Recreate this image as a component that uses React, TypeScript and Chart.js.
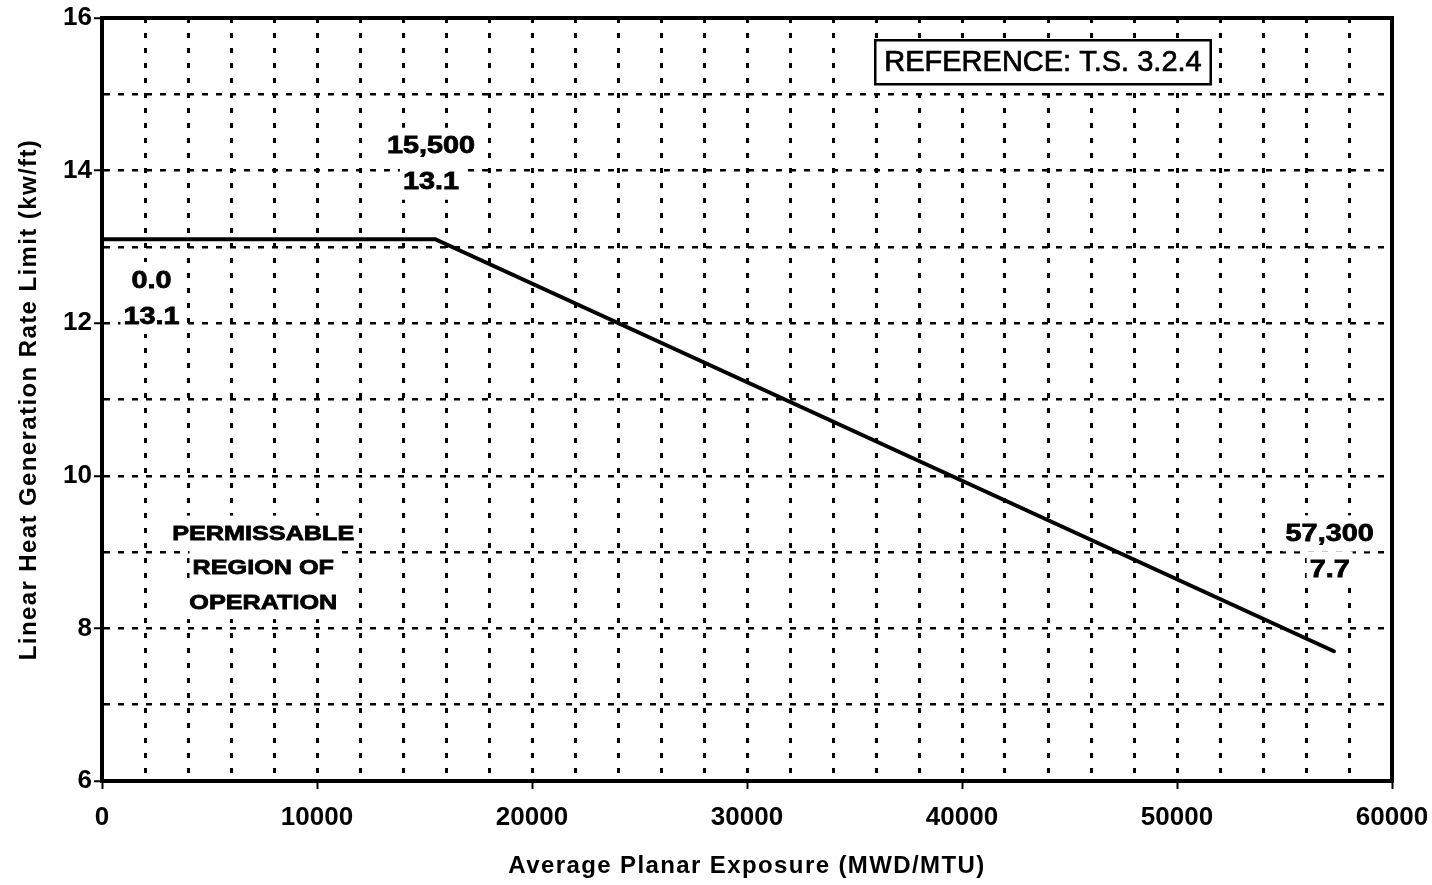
import React, { useEffect, useRef } from 'react';
import { Chart, registerables } from 'chart.js';

Chart.register(...registerables);

// ---- data ----
const exposure = [0, 15500, 57300];
const lhgrLimit = [13.1, 13.1, 7.7];
const xTickLabels = [0, 10000, 20000, 30000, 40000, 50000, 60000];
const yTickLabels = [6, 8, 10, 12, 14, 16];
const pointLabelLines = [
  ['0.0', '13.1'],
  ['15,500', '13.1'],
  ['57,300', '7.7'],
];
const pointLabelX = [2300, 15300, 57100];
const pointLabelY = [12.33, 14.09, 9.01];
const regionLines = ['PERMISSABLE', 'REGION OF', 'OPERATION'];
const regionAt = [7500, 8.8];
const referenceText = 'REFERENCE: T.S. 3.2.4';
const referenceAt = [43767, 15.42];

const FONT = '"Liberation Sans", Arial, Helvetica, sans-serif';

const spacingPlugin = {
  id: 'titleSpacing',
  beforeDraw(chart: any) {
    chart.ctx.letterSpacing = '1.4px';
  },
  beforeDatasetsDraw(chart: any) {
    chart.ctx.letterSpacing = '0px';
    const { ctx, chartArea: a } = chart;
    ctx.save();
    ctx.strokeStyle = '#000';
    ctx.lineWidth = 4;
    ctx.strokeRect(a.left, a.top, a.right - a.left, a.bottom - a.top);
    ctx.restore();
  },
};

const annotationPlugin = {
  id: 'annotations',
  afterDraw(chart: any) {
    const { ctx } = chart;
    const xs = chart.scales.x;
    const ys = chart.scales.y;
    ctx.save();
    ctx.textAlign = 'center';
    ctx.textBaseline = 'middle';
    ctx.letterSpacing = '0px';

    const stretch = 1.2;
    const block = (lines: string[], xv: number, yv: number, size: number, lh: number) => {
      ctx.font = `bold ${size}px ${FONT}`;
      const cx = xs.getPixelForValue(xv);
      const cy = ys.getPixelForValue(yv);
      const n = lines.length;
      lines.forEach((t, i) => {
        const ty = cy + (i - (n - 1) / 2) * lh;
        const w = ctx.measureText(t).width * stretch;
        ctx.fillStyle = '#fff';
        ctx.fillRect(cx - w / 2 - 3, ty - lh / 2, w + 6, lh);
      });
      lines.forEach((t, i) => {
        const ty = cy + (i - (n - 1) / 2) * lh;
        ctx.save();
        ctx.translate(cx, ty);
        ctx.scale(stretch, 1);
        ctx.fillStyle = '#000';
        ctx.strokeStyle = '#000';
        ctx.lineWidth = 0.8;
        ctx.fillText(t, 0, 1);
        ctx.strokeText(t, 0, 1);
        ctx.restore();
      });
    };

    pointLabelLines.forEach((lines, i) => block(lines, pointLabelX[i], pointLabelY[i], 24, 36));
    block(regionLines, regionAt[0], regionAt[1], 21, 34.5);

    // reference box
    ctx.font = `${29}px ${FONT}`;
    const rx = xs.getPixelForValue(referenceAt[0]);
    const ry = ys.getPixelForValue(referenceAt[1]);
    const tw = ctx.measureText(referenceText).width;
    const bw = tw + 18;
    const bh = 44;
    ctx.fillStyle = '#fff';
    ctx.fillRect(rx - bw / 2, ry - bh / 2, bw, bh);
    ctx.strokeStyle = '#000';
    ctx.lineWidth = 2.5;
    ctx.strokeRect(rx - bw / 2, ry - bh / 2, bw, bh);
    ctx.fillStyle = '#000';
    ctx.lineWidth = 0.7;
    ctx.fillText(referenceText, rx, ry + 1);
    ctx.strokeText(referenceText, rx, ry + 1);
    ctx.restore();
  },
};

export default function App() {
  const ref = useRef<HTMLCanvasElement | null>(null);

  useEffect(() => {
    if (!ref.current) return;
    const tickColorFor = (labels: number[]) => (c: any) =>
      c.tick && labels.includes(c.tick.value) ? '#000' : 'rgba(0,0,0,0)';

    const chart = new Chart(ref.current, {
      type: 'line',
      data: {
        datasets: [
          {
            data: exposure.map((x, i) => ({ x, y: lhgrLimit[i] })),
            borderColor: '#000',
            backgroundColor: '#000',
            borderWidth: 4,
            pointRadius: 0,
            fill: false,
            tension: 0,
            borderCapStyle: 'round',
          },
        ],
      },
      options: {
        responsive: false,
        animation: false,
        layout: { padding: { top: 18, right: 40, left: 0, bottom: 0 } },
        plugins: {
          legend: { display: false },
          tooltip: { enabled: false },
        },
        scales: {
          x: {
            type: 'linear',
            min: 0,
            max: 60000,
            ticks: {
              stepSize: 2000,
              maxTicksLimit: 100,
              autoSkip: false,
              maxRotation: 0,
              minRotation: 0,
              callback: (v: any) => (xTickLabels.includes(Number(v)) ? String(v) : ''),
              font: { family: FONT, size: 26, weight: 'bold' },
              color: '#000',
              padding: 13,
              z: 1,
            },
            grid: {
              color: '#000',
              lineWidth: 3,
              tickLength: 8,
              tickWidth: 2,
              tickColor: tickColorFor(xTickLabels),
            },
            border: { display: true, color: '#000', width: 4, dash: [5, 10] },
            title: {
              display: true,
              text: 'Average Planar Exposure (MWD/MTU)',
              font: { family: FONT, size: 24, weight: 'bold' },
              color: '#000',
              padding: { top: 0, bottom: 4 },
            },
            afterFit: (s: any) => {
              s.height = 104;
              s.paddingLeft = 0;
              s.paddingRight = 0;
            },
          },
          y: {
            type: 'linear',
            min: 6,
            max: 16,
            ticks: {
              stepSize: 1,
              maxTicksLimit: 100,
              autoSkip: false,
              callback: (v: any) => (yTickLabels.includes(Number(v)) ? String(v) : ''),
              font: { family: FONT, size: 26, weight: 'bold' },
              color: '#000',
              padding: 2,
              z: 1,
            },
            grid: {
              color: '#000',
              lineWidth: 2.5,
              tickLength: 8,
              tickWidth: 2,
              tickColor: tickColorFor(yTickLabels),
            },
            border: { display: true, color: '#000', width: 4, dash: [6, 8] },
            title: {
              display: true,
              text: 'Linear Heat Generation Rate Limit (kw/ft)',
              font: { family: FONT, size: 24, weight: 'bold' },
              color: '#000',
              padding: { top: 15, bottom: 0 },
            },
            afterFit: (s: any) => {
              s.width = 102;
              s.paddingTop = 0;
              s.paddingBottom = 0;
            },
          },
        },
      } as any,
      plugins: [spacingPlugin, annotationPlugin],
    });
    return () => chart.destroy();
  }, []);

  return (
    <canvas
      ref={ref}
      width={1432}
      height={885}
      style={{ position: 'absolute', left: 0, top: 0, width: 1432, height: 885, display: 'block' }}
    />
  );
}
